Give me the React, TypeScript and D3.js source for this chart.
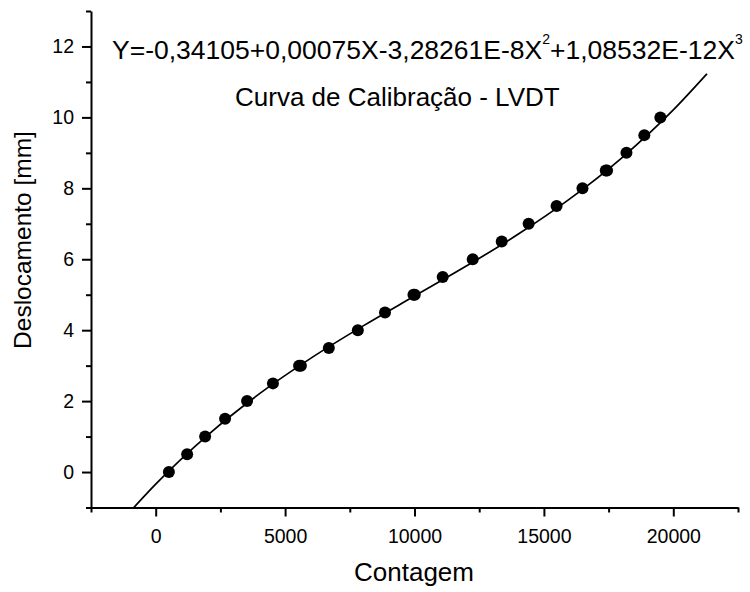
import React, { useRef, useEffect } from 'react';
import * as d3 from 'd3';

// calibration points
const contagem = [510, 1215, 1910, 2680, 3530, 4530, 5540, 5610, 6690, 7810, 8860, 9960, 10010, 11090, 12250, 13370, 14410, 15490, 16490, 17390, 17440, 18190, 18880, 19500];
const deslocamento = [0, 0.5, 1, 1.5, 2, 2.5, 3, 3, 3.5, 4, 4.5, 5, 5, 5.5, 6, 6.5, 7, 7.5, 8, 8.5, 8.5, 9, 9.5, 10];

// polynomial fit line, sampled along the drawn curve
const fitX = [-900, 0, 2000, 4000, 6000, 8000, 10000, 12000, 14000, 16000, 18000, 20000, 21300];
const fitY = [-1.043, -0.341, 1.036, 2.203, 3.212, 4.114, 4.962, 5.807, 6.703, 7.701, 8.853, 10.211, 11.23];

const xTicks = [0, 5000, 10000, 15000, 20000];
const xMinor = [-2500, 2500, 7500, 12500, 17500, 22500];
const yTicks = [0, 2, 4, 6, 8, 10, 12];
const yMinor = [-1, 1, 3, 5, 7, 9, 11, 13];

const FONT = '"Liberation Sans", Arial, sans-serif';

const CalibrationChart: React.FC = () => {
  const svgRef = useRef<SVGSVGElement | null>(null);

  useEffect(() => {
    if (!svgRef.current) return;
    const svg = d3.select(svgRef.current);
    svg.selectAll('*').remove();

    const left = 91, right = 738, top = 11, bottom = 507.5;

    const x = d3.scaleLinear().domain([-2500, 22500]).range([left, right]);
    const y = d3.scaleLinear().domain([-1, 13]).range([bottom, top]);

    svg.append('defs').append('clipPath').attr('id', 'plot')
      .append('rect')
      .attr('x', left).attr('y', top)
      .attr('width', right - left).attr('height', bottom - top);

    // axes
    const styleAxis = (g: d3.Selection<SVGGElement, unknown, null, undefined>) => {
      g.select('.domain').attr('stroke-width', 2);
      g.selectAll('.tick line').attr('stroke-width', 2);
      g.selectAll('.tick text').attr('font-family', FONT).attr('font-size', 19.5).attr('fill', '#000');
    };

    const gx = svg.append('g').attr('transform', `translate(0,${bottom})`)
      .call(d3.axisBottom(x).tickValues(xTicks).tickSize(9).tickSizeOuter(0).tickPadding(13).tickFormat(d3.format('d')));
    styleAxis(gx);
    svg.append('g').attr('transform', `translate(0,${bottom})`)
      .call(d3.axisBottom(x).tickValues(xMinor).tickSize(5).tickSizeOuter(0).tickFormat(() => ''))
      .call(g => { g.select('.domain').remove(); g.selectAll('line').attr('stroke-width', 2); });

    const gy = svg.append('g').attr('transform', `translate(${left},0)`)
      .call(d3.axisLeft(y).tickValues(yTicks).tickSize(9).tickSizeOuter(0).tickPadding(8));
    styleAxis(gy);
    svg.append('g').attr('transform', `translate(${left},0)`)
      .call(d3.axisLeft(y).tickValues(yMinor).tickSize(5).tickSizeOuter(0).tickFormat(() => ''))
      .call(g => { g.select('.domain').remove(); g.selectAll('line').attr('stroke-width', 2); });

    // fit line
    const fit = fitX.map((v, i) => [v, fitY[i]] as [number, number]);
    const line = d3.line<[number, number]>()
      .x(d => x(d[0]))
      .y(d => y(d[1]))
      .curve(d3.curveMonotoneX);
    svg.append('path')
      .datum(fit)
      .attr('clip-path', 'url(#plot)')
      .attr('d', line)
      .attr('fill', 'none')
      .attr('stroke', '#000')
      .attr('stroke-width', 1.7);

    // points
    svg.append('g').selectAll('circle')
      .data(contagem)
      .enter()
      .append('circle')
      .attr('cx', d => x(d))
      .attr('cy', (_, i) => y(deslocamento[i]))
      .attr('r', 6)
      .attr('fill', '#000');

    // equation
    const eq = svg.append('text')
      .attr('x', 112).attr('y', 59)
      .attr('font-family', FONT).attr('font-size', 26.5).attr('fill', '#000');
    eq.append('tspan').text('Y=-0,34105+0,00075X-3,28261E-8X');
    eq.append('tspan').attr('font-size', 14).attr('dy', -15).text('2');
    eq.append('tspan').attr('dy', 15).text('+1,08532E-12X');
    eq.append('tspan').attr('font-size', 14).attr('dy', -15).text('3');

    svg.append('text')
      .attr('x', 235).attr('y', 106)
      .attr('font-family', FONT).attr('font-size', 26).attr('fill', '#000')
      .text('Curva de Calibração - LVDT');

    // axis titles
    svg.append('text')
      .attr('x', 414).attr('y', 581)
      .attr('text-anchor', 'middle')
      .attr('font-family', FONT).attr('font-size', 26).attr('fill', '#000')
      .text('Contagem');

    svg.append('text')
      .attr('transform', 'translate(31,240) rotate(-90)')
      .attr('text-anchor', 'middle')
      .attr('font-family', FONT).attr('font-size', 24.5).attr('fill', '#000')
      .text('Deslocamento [mm]');
  }, []);

  return (
    <svg
      ref={svgRef}
      width={750}
      height={592}
      style={{ position: 'absolute', left: 0, top: 0, background: '#fff' }}
    ></svg>
  );
};

export default function App() {
  return <CalibrationChart />;
}
